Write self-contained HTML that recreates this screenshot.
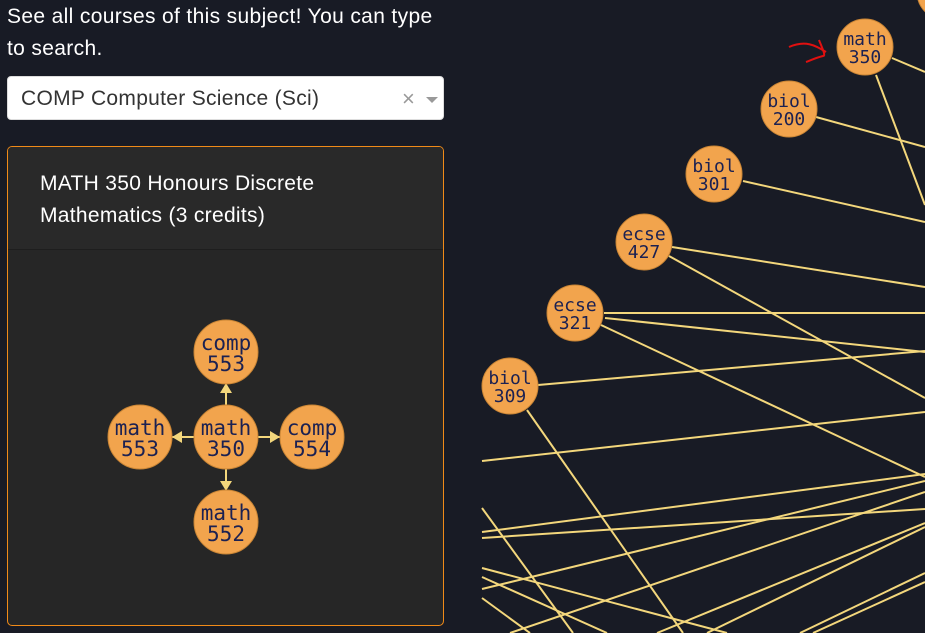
<!DOCTYPE html>
<html><head><meta charset="utf-8"><style>
body{margin:0;width:925px;height:633px;background:#181b25;overflow:hidden;font-family:"Liberation Sans",sans-serif;position:relative}
#intro{position:absolute;left:7px;top:1px;width:440px;color:#fff;font-size:21px;letter-spacing:0.35px;line-height:32px}
#sel{position:absolute;left:7px;top:76px;width:437px;height:44px;background:#fff;border-radius:4px;box-sizing:border-box;border:1px solid #ddd}
#sel .v{position:absolute;left:13px;top:10px;font-size:21px;letter-spacing:0.3px;color:#333}
#sel .x{position:absolute;left:394px;top:9px;font-size:22px;color:#999}
#sel .c{position:absolute;left:418px;top:20px;width:0;height:0;border-left:6px solid transparent;border-right:6px solid transparent;border-top:6px solid #999}
#card{position:absolute;left:7px;top:146px;width:437px;height:480px;box-sizing:border-box;border:1px solid #f08a18;border-radius:5px;background:#262626;overflow:hidden}
#hdr{height:103px;border-bottom:1px solid #1e1e1e;background:#292929;color:#fff;font-size:21px;letter-spacing:0.3px;line-height:32px;padding:21px 0 0 32px;box-sizing:border-box}
svg{position:absolute;left:0;top:0}
svg text{font-family:"DejaVu Sans Mono",monospace;fill:#1b2152}
</style></head><body>
<div id="intro">See all courses of this subject! You can type to search.</div>
<div id="sel"><span class="v">COMP Computer Science (Sci)</span><span class="x">×</span><span class="c"></span></div>
<div id="card"><div id="hdr">MATH 350 Honours Discrete<br>Mathematics (3 credits)</div></div>
<svg id="g" width="925" height="633">
<path d="M789 47 C805 40 815 45 826 52 M819 40 C823 50 826 56 823 56 C815 58 809 61 806 62" stroke="#e01010" stroke-width="2" fill="none"/>
</svg>
<script>
const svg=document.getElementById('g'),NS='http://www.w3.org/2000/svg';
const edges=[[892,58,925,72],[876,75,925,205],[816,117,925,147],[743,181,925,222],[672,247,925,287],[669,256,925,398],[604,313,925,313],[601,325,925,477],[605,318,925,352],[538,385,925,351],[527,410,683,633],[482,461,925,412],[482,532,925,474],[482,538,925,509],[482,589,925,481],[510,633,925,492],[482,508,573,633],[482,568,727,633],[482,577,607,633],[482,598,530,633],[657,633,925,523],[707,633,925,527],[800,633,925,573],[813,633,925,582]];
const bigNodes=[['math','350',865,47],['biol','200',789,109],['biol','301',714,174],['ecse','427',644,242],['ecse','321',575,313],['biol','309',510,386],['','',945,-8]];
const smallNodes=[['math','350',226,437],['comp','553',226,352],['math','553',140,437],['comp','554',312,437],['math','552',226,522]];
const arrows=[[226,406,226,383],[195,437,172,437],[257,437,280,437],[226,468,226,491]];
function el(t,a){const e=document.createElementNS(NS,t);for(const k in a)e.setAttribute(k,a[k]);svg.appendChild(e);return e;}
edges.forEach(e=>{const l=el('line',{x1:e[0],y1:e[1],x2:e[2],y2:e[3],stroke:'#f3d77c','stroke-width':2});

});
arrows.forEach(a=>{el('line',{x1:a[0],y1:a[1],x2:a[2],y2:a[3],stroke:'#f3d77c','stroke-width':2});
const dx=Math.sign(a[2]-a[0]),dy=Math.sign(a[3]-a[1]),x=a[2],y=a[3];
const p=el('polygon',{points:`${x},${y} ${x-dx*10-dy*6},${y-dy*10-dx*6} ${x-dx*10+dy*6},${y-dy*10+dx*6}`,fill:'#f3d77c'});

});
function node(n,r,fs){const c=el('circle',{cx:n[2],cy:n[3],r:r,fill:'#f2a44d',stroke:'#c98535','stroke-width':1});


if(n[0]){el('text',{x:n[2],y:n[3]-2,'text-anchor':'middle','font-size':fs}).textContent=n[0];
el('text',{x:n[2],y:n[3]+fs-2,'text-anchor':'middle','font-size':fs}).textContent=n[1];}}
bigNodes.forEach(n=>node(n,28,18));
smallNodes.forEach(n=>node(n,32,21));
</script>
</body></html>
